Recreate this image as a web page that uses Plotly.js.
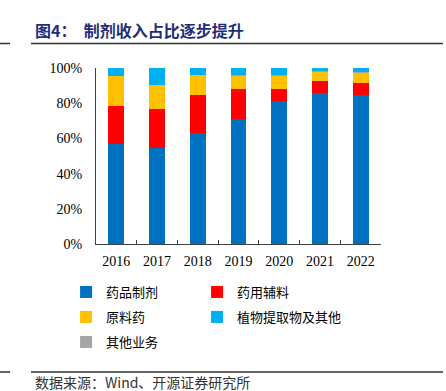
<!DOCTYPE html>
<html><head><meta charset="utf-8">
<script src="https://cdn.plot.ly/plotly-3.0.1.min.js"></script>
<style>body{margin:0;background:#fff}#c{width:446px;height:391px}</style>
</head><body><div id="c"></div>
<script>
const years = ['2016','2017','2018','2019','2020','2021','2022'];
const drugPrep = [56.6, 54.4, 62.9, 70.8, 81.3, 85.6, 84.5];   // 药品制剂
const excipient = [22.0, 22.3, 21.8, 17.2, 6.6, 7.2, 7.2];     // 药用辅料
const api = [16.7, 13.6, 11.1, 7.7, 7.7, 5.1, 5.6];            // 原料药
const otherBiz = [0.2, 0.2, 0.3, 0.5, 0.3, 0.2, 0.2];          // 其他业务
const plantExt = [4.5, 9.5, 3.9, 3.8, 4.1, 1.9, 2.5];          // 植物提取物及其他
const yTicks = [0, 20, 40, 60, 80, 100];
const yTickText = ['0%','20%','40%','60%','80%','100%'];

const cjk = '"Noto Sans CJK SC", sans-serif';
const serif = '"Liberation Serif", "Times New Roman", serif';
const legFont = {family: cjk, size: 13, color: '#000'};

function bar(name, y, color, leg) {
  return {type: 'bar', x: years, y: y, name: name, legend: leg,
    marker: {color: color, line: {width: 0}}, width: 0.39, hoverinfo: 'skip'};
}
const data = [
  bar('药品制剂', drugPrep, '#0070C0', 'legend'),
  bar('药用辅料', excipient, '#FF0000', 'legend2'),
  bar('原料药', api, '#FFC000', 'legend3'),
  bar('其他业务', otherBiz, '#A5A5A5', 'legend5'),
  bar('植物提取物及其他', plantExt, '#00B0F0', 'legend4')
];
function leg(col, ypx) {
  return {orientation: 'v', x: -0.105 + col * 131 / 285, xanchor: 'left', y: (244 - ypx) / 176, yanchor: 'middle',
    font: legFont, bgcolor: 'rgba(0,0,0,0)', itemclick: false, itemdoubleclick: false};
}
const layout = {
  width: 446, height: 391,
  margin: {l: 96, r: 65, t: 68, b: 147},
  paper_bgcolor: '#fff', plot_bgcolor: '#fff',
  barmode: 'stack', showlegend: true,
  legend: leg(0, 292), legend2: leg(1, 292), legend3: leg(0, 317), legend4: leg(1, 317), legend5: leg(0, 342),
  xaxis: {type: 'category', showline: true, linecolor: '#404040', linewidth: 1,
    ticks: 'inside', ticklen: 4, tickcolor: '#404040', tickson: 'boundaries',
    tickfont: {family: serif, size: 14, color: '#000'}, showgrid: false, zeroline: false,
    ticklabelstandoff: 4},
  yaxis: {range: [0, 100], tickvals: yTicks, ticktext: yTickText, showline: true,
    linecolor: '#404040', linewidth: 1, ticks: '', showgrid: false, zeroline: false,
    tickfont: {family: serif, size: 14, color: '#000'}, ticklabelstandoff: 10},
  shapes: [
    {type: 'line', xref: 'paper', yref: 'paper', x0: -96/285, x1: -86/285, y0: 1 + 24.5/176, y1: 1 + 24.5/176, line: {color: '#333', width: 1.5}},
    {type: 'line', xref: 'paper', yref: 'paper', x0: -65/285, x1: 347/285, y0: 1 + 24.5/176, y1: 1 + 24.5/176, line: {color: '#333', width: 1.5}},
    {type: 'line', xref: 'paper', yref: 'paper', x0: -96/285, x1: -86/285, y0: -128/176, y1: -128/176, line: {color: '#333', width: 1.5}},
    {type: 'line', xref: 'paper', yref: 'paper', x0: -65/285, x1: 347/285, y0: -128/176, y1: -128/176, line: {color: '#333', width: 1.5}}
  ],
  annotations: [
    {text: '<b>图4：  制剂收入占比逐步提升</b>',
      xref: 'paper', yref: 'paper', x: -63/285, y: 1 + 38/176,
      xanchor: 'left', yanchor: 'middle', showarrow: false, font: {family: cjk, size: 16, color: '#1F2F7A'}},
    {text: '数据来源：Wind、开源证券研究所', xref: 'paper', yref: 'paper', x: -63/285, y: -138/176,
      xanchor: 'left', yanchor: 'middle', showarrow: false, font: {family: cjk, size: 14, color: '#333'}}
  ]
};
Plotly.newPlot('c', data, layout, {staticPlot: true, displayModeBar: false});
</script></body></html>
